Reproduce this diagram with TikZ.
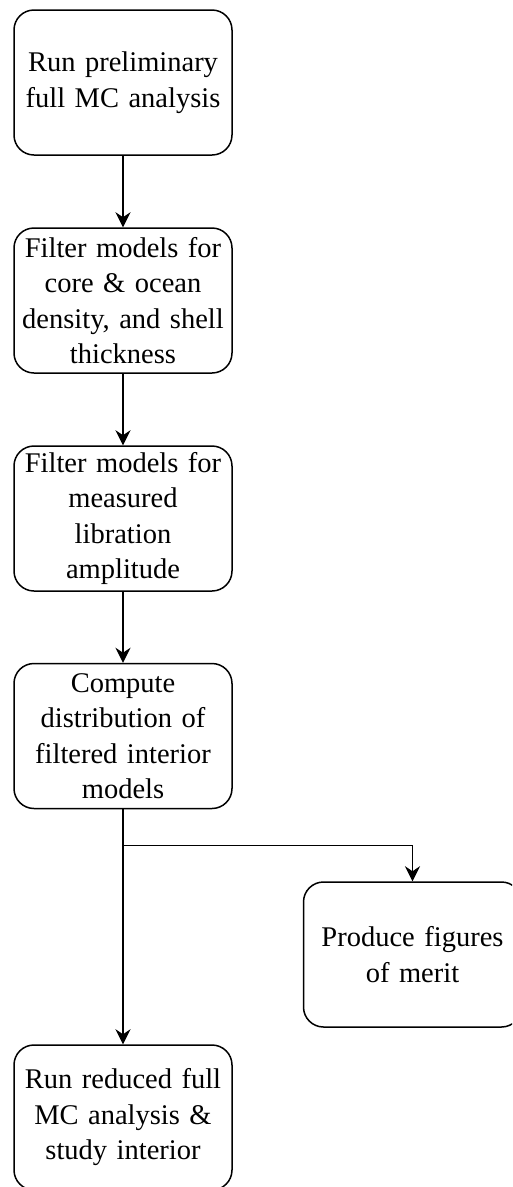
\documentclass[tikz,border=0pt]{standalone}
\usepackage{fontspec}
\setmainfont{Liberation Serif}
\usepackage{tikz}
\usetikzlibrary{arrows.meta, positioning}
\tikzstyle{process} = [rectangle, rounded corners=20pt, minimum width=218pt, minimum height=145pt, text width=208pt, inner sep=4pt, align=center, draw=black, line width=1.5pt, font=\fontsize{28.5}{35.5}\selectfont]
\tikzstyle{arrow}   = [line width=1.5pt,->,>={Stealth[length=15pt,width=15pt,inset=5pt]}]

\begin{document}
\begin{tikzpicture}[node distance=218pt]
      % Frame of the page
      \clip (0,0) rectangle (512pt,-1187pt);
      % Nodes
      %% Main column
      \node (run_preliminary)   [process] at (123pt,-82.5pt)                 {Run preliminary\\full MC analysis};
      \node (filter_density)    [process, below of=run_preliminary]          {Filter models for\\core \& ocean\\density, and shell\\thickness};
      \node (filter_libration)  [process, below of=filter_density]           {Filter models for\\measured\\libration\\amplitude};
      \node (compute_distrib)   [process, below of=filter_libration, yshift=0.5pt] {Compute\\distribution of\\filtered interior\\models};
      \node (run_reduced)       [process, below of=compute_distrib, yshift=-163.5pt] {Run reduced full\\MC analysis \&\\study interior};
      %% Side branch
      \node (figures_merit)     [process, right of=compute_distrib, xshift=71.5pt, yshift=-218.5pt] {Produce figures\\of merit};

      % % Arrows
      \draw [arrow] (run_preliminary)   -- (filter_density);
      \draw [arrow] (filter_density)    -- (filter_libration);
      \draw [arrow] (filter_libration)  -- (compute_distrib);
      \draw [arrow] (compute_distrib)   -- (run_reduced);
      \draw [arrow] (compute_distrib.south) -- ++(0,-36pt) coordinate(tmp) -| (figures_merit.north);
\end{tikzpicture}
\end{document}
